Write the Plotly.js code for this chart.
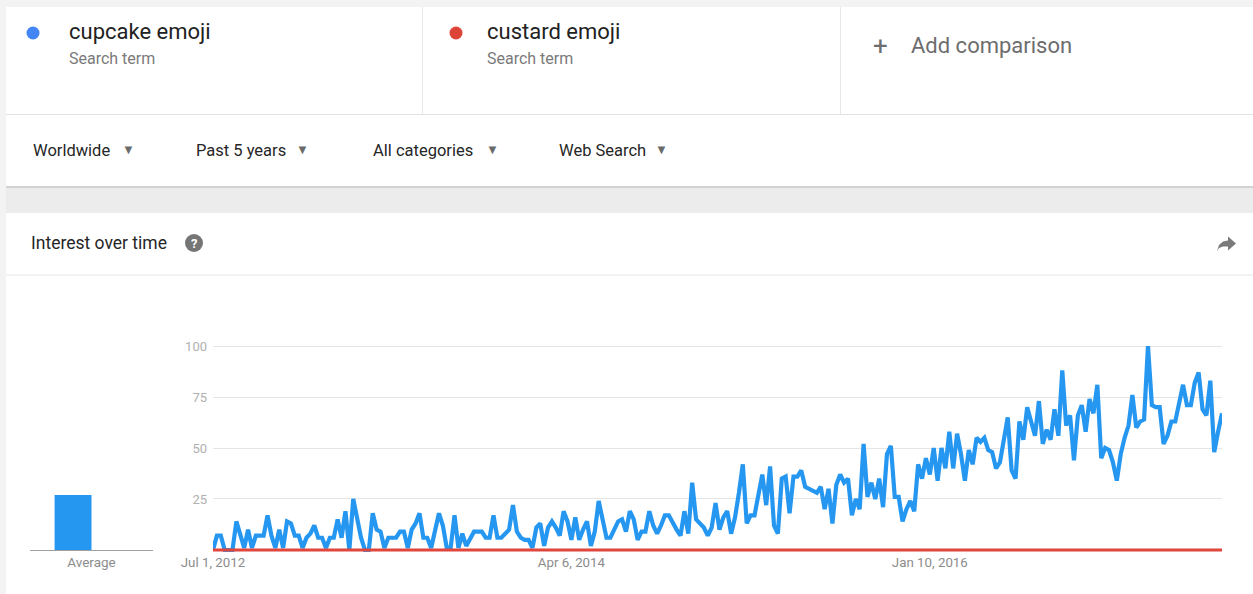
<!DOCTYPE html>
<html><head><meta charset="utf-8">
<script src="https://cdn.plot.ly/plotly-3.0.1.min.js"></script>
<style>html,body{margin:0;padding:0;background:#fff;overflow:hidden}#chart{width:1253px;height:594px}</style>
</head><body><div id="chart"></div>
<script>
// ---------- data ----------
const seriesNames = ['cupcake emoji', 'custard emoji'];
const startWeek = '2012-07-01';
const cupcakeValues = [
  0,7,7,0,0,0,14,8,1,10,
  1,7,7,7,17,7,1,10,1,14,
  13,7,7,1,6,8,12,6,6,1,
  6,6,15,6,19,0,25,16,6,0,
  0,18,10,9,1,6,6,6,9,9,
  1,10,13,18,6,6,1,10,18,12,
  1,1,17,1,8,2,6,9,9,9,
  6,6,17,6,6,8,10,22,9,6,
  5,5,1,11,13,2,11,14,11,7,
  19,14,5,16,5,10,14,2,9,24,
  15,6,6,10,14,15,9,19,15,5,
  9,9,19,12,8,12,17,17,13,10,
  7,19,8,33,15,13,11,7,11,23,
  10,16,19,8,16,28,42,13,17,17,
  27,37,22,41,12,8,35,36,18,36,
  36,39,31,30,29,28,31,20,30,13,
  32,37,33,35,17,25,20,52,26,33,
  25,35,21,47,51,26,26,14,20,24,
  19,42,35,45,37,50,34,50,40,58,
  40,57,47,34,49,42,55,53,55,49,
  48,40,43,54,65,39,35,63,54,70,
  63,56,73,52,59,54,69,56,88,61,
  66,44,66,71,58,74,67,81,45,50,
  49,43,34,47,55,61,76,60,63,64,
  100,71,70,70,52,56,63,63,72,81,
  71,71,82,87,69,66,83,48,58,67
];
const custardValues = [
  0,0,0,0,0,0,0,0,0,0, 0,0,0,0,0,0,0,0,0,0, 0,0,0,0,0,0,0,0,0,0,
  0,0,0,0,0,0,0,0,0,0, 0,0,0,0,0,0,0,0,0,0, 0,0,0,0,0,0,0,0,0,0,
  0,0,0,0,0,0,0,0,0,0, 0,0,0,0,0,0,0,0,0,0, 0,0,0,0,0,0,0,0,0,0,
  0,0,0,0,0,0,0,0,0,0, 0,0,0,0,0,0,0,0,0,0, 0,0,0,0,0,0,0,0,0,0,
  0,0,0,0,0,0,0,0,0,0, 0,0,0,0,0,0,0,0,0,0, 0,0,0,0,0,0,0,0,0,0,
  0,0,0,0,0,0,0,0,0,0, 0,0,0,0,0,0,0,0,0,0, 0,0,0,0,0,0,0,0,0,0,
  0,0,0,0,0,0,0,0,0,0, 0,0,0,0,0,0,0,0,0,0, 0,0,0,0,0,0,0,0,0,0,
  0,0,0,0,0,0,0,0,0,0, 0,0,0,0,0,0,0,0,0,0, 0,0,0,0,0,0,0,0,0,0,
  0,0,0,0,0,0,0,0,0,0, 0,0,0,0,0,0,0,0,0,0
];
const averageCategory = ['Average'];
const cupcakeAverage = [27];
const custardAverage = [0];
const xTickVals = ['2012-07-01', '2014-04-06', '2016-01-10'];
const xTickText = ['Jul 1, 2012', 'Apr 6, 2014', 'Jan 10, 2016'];
const yTickVals = [25, 50, 75, 100];
const filterLabels = ['Worldwide', 'Past 5 years', 'All categories', 'Web Search'];

// ---------- helpers ----------
function weekDates(start, n) {
  const out = []; const d0 = new Date(start + 'T00:00:00Z');
  for (let i = 0; i < n; i++) out.push(new Date(d0.getTime() + i * 7 * 86400000).toISOString().slice(0, 10));
  return out;
}
const weeks = weekDates(startWeek, cupcakeValues.length);
const W = 1253, H = 594;
const px = x => x / W, py = y => 1 - y / H;
const BLUE = '#2697f0', RED = '#e0463c', DOTBLUE = '#4285f4', DOTRED = '#db4437';
const FONT = 'Roboto, Arial, sans-serif';

const shapes = [];
function rect(x0, y0, x1, y1, fill, layer) {
  shapes.push({type: 'rect', xref: 'paper', yref: 'paper', x0: px(x0), x1: px(x1), y0: py(y1), y1: py(y0),
    fillcolor: fill, line: {width: 0}, layer: layer || 'below'});
}
function hline(x0, x1, y, color, w) {
  shapes.push({type: 'line', xref: 'paper', yref: 'paper', x0: px(x0), x1: px(x1), y0: py(y), y1: py(y),
    line: {color: color, width: w || 1}, layer: 'below'});
}
function vline(x, y0, y1, color) {
  shapes.push({type: 'line', xref: 'paper', yref: 'paper', x0: px(x), x1: px(x), y0: py(y0), y1: py(y1),
    line: {color: color, width: 1}, layer: 'below'});
}
function circle(cx, cy, r, fill) {
  shapes.push({type: 'circle', xref: 'paper', yref: 'paper', x0: px(cx - r), x1: px(cx + r), y0: py(cy + r), y1: py(cy - r),
    fillcolor: fill, line: {width: 0}, layer: 'above'});
}
function pathPx(pts, fill) {
  let d = '';
  pts.forEach((p, i) => { d += (i ? ' L' : 'M') + px(p[0]).toFixed(5) + ',' + py(p[1]).toFixed(5); });
  shapes.push({type: 'path', xref: 'paper', yref: 'paper', path: d + ' Z', fillcolor: fill, line: {width: 0}, layer: 'above'});
}
const annotations = [];
function txt(x, y, text, size, color, anchor, extra) {
  annotations.push(Object.assign({xref: 'paper', yref: 'paper', x: px(x), y: py(y), text: text, showarrow: false,
    xanchor: anchor || 'left', yanchor: 'middle', font: {family: FONT, size: size, color: color}}, extra || {}));
}

// ---------- page chrome ----------
rect(0, 0, W, H, '#f3f3f3');
rect(6, 7, W, 186, '#ffffff');
hline(6, W, 187, '#d2d2d2', 2);
rect(6, 188, W, 213, '#ececec');
rect(6, 213, W, H, '#ffffff');
hline(6, W, 114.5, '#e3e3e3');
vline(422.5, 7, 114, '#e6e6e6');
vline(840.5, 7, 114, '#e6e6e6');
hline(6, W, 275, '#e6e6e6');

circle(33, 33, 6.5, DOTBLUE);
circle(456, 33, 6.5, DOTRED);
txt(67, 32, seriesNames[0], 22, '#222222');
txt(67, 58, 'Search term', 16, '#7a7a7a');
txt(485, 32, seriesNames[1], 22, '#222222');
txt(485, 58, 'Search term', 16, '#7a7a7a');
txt(880, 46, '+', 26, '#6d6d6d', 'center');
txt(909, 46, 'Add comparison', 22, '#6d6d6d');

const filterX = [31, 194, 371, 557];
const arrowX = [128, 302, 492, 661];
filterLabels.forEach((f, i) => {
  txt(filterX[i], 150, f, 16.5, '#262626');
  txt(arrowX[i], 149, '▼', 13, '#6b6b6b', 'center');
});

txt(29, 243, 'Interest over time', 17.5, '#262626');
circle(194, 243, 9, '#757575');
txt(194, 243, '<b>?</b>', 13, '#ffffff', 'center');
pathPx([[1217, 251], [1219, 245], [1223, 241.5], [1228, 240.5], [1228, 236.5], [1236, 243.5], [1228, 250.5], [1228, 246.5], [1223, 246.5], [1219, 248]], '#7a7a7a');

// ---------- traces ----------
const data = [
  {type: 'scatter', mode: 'lines', name: seriesNames[0], x: weeks, y: cupcakeValues, xaxis: 'x', yaxis: 'y',
    line: {color: BLUE, width: 4.2, shape: 'linear'}, hoverinfo: 'skip'},
  {type: 'scatter', mode: 'lines', name: seriesNames[1], x: weeks, y: custardValues, xaxis: 'x', yaxis: 'y',
    line: {color: RED, width: 3}, hoverinfo: 'skip'},
  {type: 'bar', name: seriesNames[0], x: averageCategory, y: cupcakeAverage, xaxis: 'x2', yaxis: 'y2',
    marker: {color: BLUE}, hoverinfo: 'skip'},
  {type: 'bar', name: seriesNames[1], x: averageCategory, y: custardAverage, xaxis: 'x2', yaxis: 'y2',
    marker: {color: RED}, hoverinfo: 'skip'}
];

const layout = {
  width: W, height: H, margin: {l: 0, r: 0, t: 0, b: 0, pad: 0},
  paper_bgcolor: '#ffffff', plot_bgcolor: 'rgba(0,0,0,0)', showlegend: false,
  font: {family: FONT},
  xaxis: {type: 'date', domain: [px(213), px(1222)], range: [weeks[0], weeks[weeks.length - 1]], anchor: 'y',
    tickmode: 'array', tickvals: xTickVals, ticktext: xTickText, showgrid: false, zeroline: false, showline: false,
    ticks: '', ticklabelstandoff: -3, tickfont: {size: 13.3, color: '#8c8c8c'}, fixedrange: true},
  yaxis: {domain: [py(556.1), py(339.9)], range: [-3, 103], anchor: 'x', tickmode: 'array', tickvals: yTickVals,
    showgrid: true, gridcolor: '#e5e5e5', gridwidth: 1, zeroline: false, showline: false, ticks: '',
    ticklabelstandoff: 5, tickfont: {size: 13, color: '#b0b0b0'}, fixedrange: true},
  xaxis2: {domain: [px(30), px(153)], anchor: 'y2', type: 'category', showline: true, linecolor: '#a0a0a0', linewidth: 1,
    ticks: '', tickfont: {size: 13.5, color: '#8c8c8c'}, showgrid: false, zeroline: false, fixedrange: true},
  yaxis2: {domain: [py(550), py(346)], range: [0, 100], anchor: 'x2', visible: false, fixedrange: true},
  barmode: 'group', bargap: 0.4, bargroupgap: 0,
  shapes: shapes, annotations: annotations
};

Plotly.newPlot('chart', data, layout, {displayModeBar: false, staticPlot: true});
</script>
</body></html>
